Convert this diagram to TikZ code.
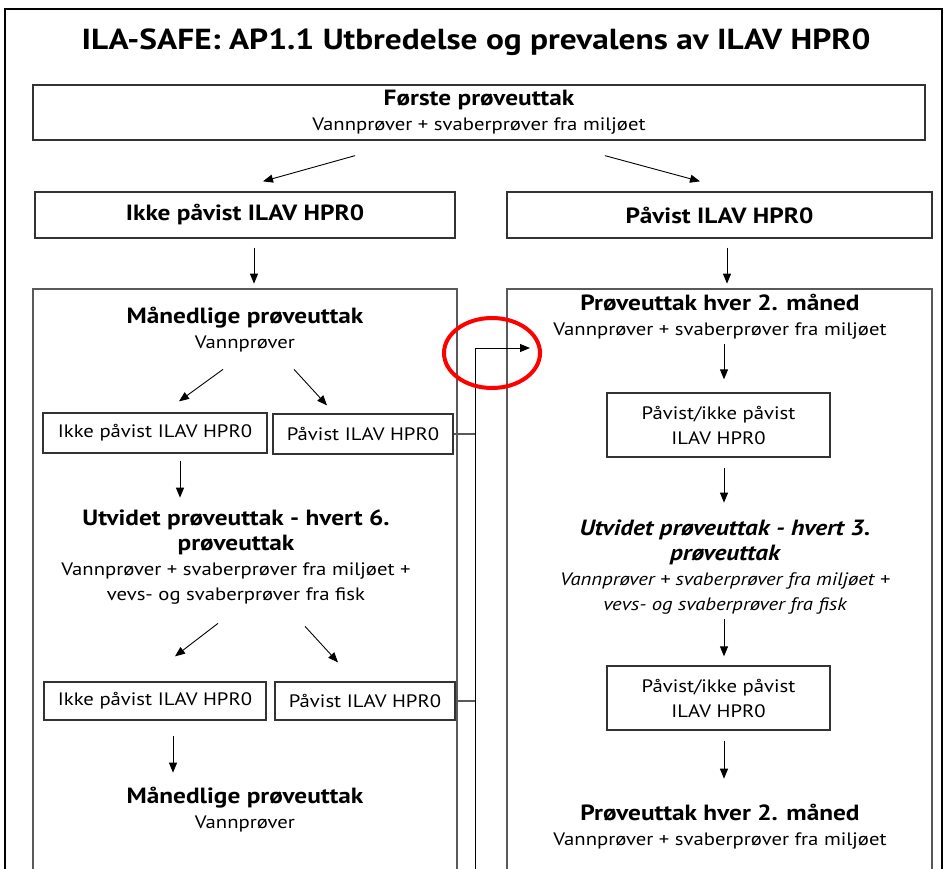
\documentclass[tikz,border=0pt]{standalone}
\usepackage{fontspec}
\setmainfont{PT Sans}[FakeStretch=1.15]
\usetikzlibrary{arrows.meta,calc}

\newcommand{\titlefont}{\fontsize{29}{36}\selectfont\bfseries}
\newcommand{\hdfont}{\fontsize{22}{27}\selectfont\bfseries}
\newcommand{\sbfont}{\fontsize{18}{25}\selectfont}

\begin{document}
\begin{tikzpicture}[x=1pt,y=-1pt,
		box/.style = {draw=black!80, line width=1.3pt, inner sep=0pt, align=center, font=\sbfont},
		txt/.style = {inner sep=0pt, align=center, font=\sbfont},
		arr/.style = {-{Triangle[length=10pt,width=8pt]}, line width=0.9pt},
		frame/.style = {draw=black!65, line width=1.5pt},
		link/.style = {draw=black!65, line width=1.2pt},
		ring/.style = {draw=red, line width=4pt}]
	\clip (0,0) rectangle (948,868);
	\draw[line width=2pt] (5,900) |- (942,9) -- (942,900);

	\node[txt, font=\titlefont] (title) at (476,42) {ILA-SAFE: AP1.1 Utbredelse og prevalens av ILAV HPR0};
	\node[box, minimum width=892pt, minimum height=55pt] (first) at (479,112.5) {{\hdfont Første prøveuttak}\\Vannprøver + svaberprøver fra miljøet};
	\node[box, minimum width=420pt, minimum height=46pt] (ikke) at (245,215) {\hdfont Ikke påvist ILAV HPR0};
	\node[box, minimum width=425pt, minimum height=46pt] (pav) at (719.5,215) {\hdfont Påvist ILAV HPR0};

	% the two columns
	\draw[frame] (33,900) |- (457,289) -- (457,900);
	\draw[frame] (507,900) |- (932,289) -- (932,900);

	% left column
	\node[txt] (mnd1) at (245,330) {{\hdfont Månedlige prøveuttak}\\Vannprøver};
	\node[box, minimum width=224pt, minimum height=40pt] (ik1) at (155,433) {Ikke påvist ILAV HPR0};
	\node[box, minimum width=180pt, minimum height=40pt] (pa1) at (363,434) {Påvist ILAV HPR0};
	\node[txt] (utv6) at (236,557) {{\hdfont Utvidet prøveuttak - hvert 6.}\\{\hdfont prøveuttak}\\Vannprøver + svaberprøver fra miljøet +\\vevs- og svaberprøver fra fisk};
	\node[box, minimum width=222pt, minimum height=38pt] (ik2) at (155,701) {Ikke påvist ILAV HPR0};
	\node[box, minimum width=180pt, minimum height=38pt] (pa2) at (365,701) {Påvist ILAV HPR0};
	\node[txt] (mnd2) at (245,810) {{\hdfont Månedlige prøveuttak}\\Vannprøver};

	% right column
	\node[txt] (hv1) at (720,317) {{\hdfont Prøveuttak hver 2. måned}\\Vannprøver + svaberprøver fra miljøet};
	\node[box, minimum width=223pt, minimum height=64pt] (pi1) at (718.5,425) {Påvist/ikke påvist\\ILAV HPR0};
	\node[txt, font=\sbfont\itshape] (utv3) at (725,567) {{\hdfont\itshape Utvidet prøveuttak - hvert 3.}\\{\hdfont\itshape prøveuttak}\\Vannprøver + svaberprøver fra miljøet +\\vevs- og svaberprøver fra fisk};
	\node[box, minimum width=223pt, minimum height=64pt] (pi2) at (718.5,698) {Påvist/ikke påvist\\ILAV HPR0};
	\node[txt] (hv2) at (720,827) {{\hdfont Prøveuttak hver 2. måned}\\Vannprøver + svaberprøver fra miljøet};

	% arrows
	\draw[arr] ($(first.south)+(-124,15)$) -- ($(ikke.north)+(18,-10)$);
	\draw[arr] ($(first.south)+(126,15)$) -- ($(pav.north)+(-19.5,-10)$);
	\draw[arr] ($(ikke.south)+(9,9)$) -- ($(ikke.south)+(9,45)$);
	\draw[arr] ($(pav.south)+(7.5,9)$) -- ($(pav.south)+(7.5,45)$);

	\draw[arr] ($(ik1.north)+(68,-43)$) -- ($(ik1.north)+(24,-11)$);
	\draw[arr] ($(pa1.north)+(-69,-44)$) -- ($(pa1.north)+(-36,-8)$);
	\draw[arr] ($(ik1.south)+(25,7)$) -- ($(ik1.south)+(25,44)$);
	\draw[arr] ($(ik2.north)+(63,-58)$) -- ($(ik2.north)+(20,-25)$);
	\draw[arr] ($(pa2.north)+(-60,-55)$) -- ($(pa2.north)+(-27,-19)$);
	\draw[arr] ($(ik2.south)+(18,15)$) -- ($(ik2.south)+(18,52)$);

	\draw[arr] ($(pi1.north)+(5.5,-48)$) -- ($(pi1.north)+(5.5,-13)$);
	\draw[arr] ($(pi1.south)+(5.5,10)$) -- ($(pi1.south)+(5.5,45)$);
	\draw[arr] ($(pi2.north)+(5.5,-46)$) -- ($(pi2.north)+(5.5,-9)$);
	\draw[arr] ($(pi2.south)+(5.5,10)$) -- ($(pi2.south)+(5.5,48)$);

	% link from the positive boxes over to the right column
	\coordinate (bus) at (475,348);
	\coordinate (busfoot) at (475,900);
	\coordinate (inlet) at (530,348);
	\draw[link] (pa1.east) -- (pa1.east -| bus);
	\draw[link] (pa2.east) -- (pa2.east -| bus);
	\draw[link, arr, draw=black] (busfoot) |- (inlet);

	\draw[ring] (492,353) ellipse [x radius=48, y radius=35];

\end{tikzpicture}
\end{document}
